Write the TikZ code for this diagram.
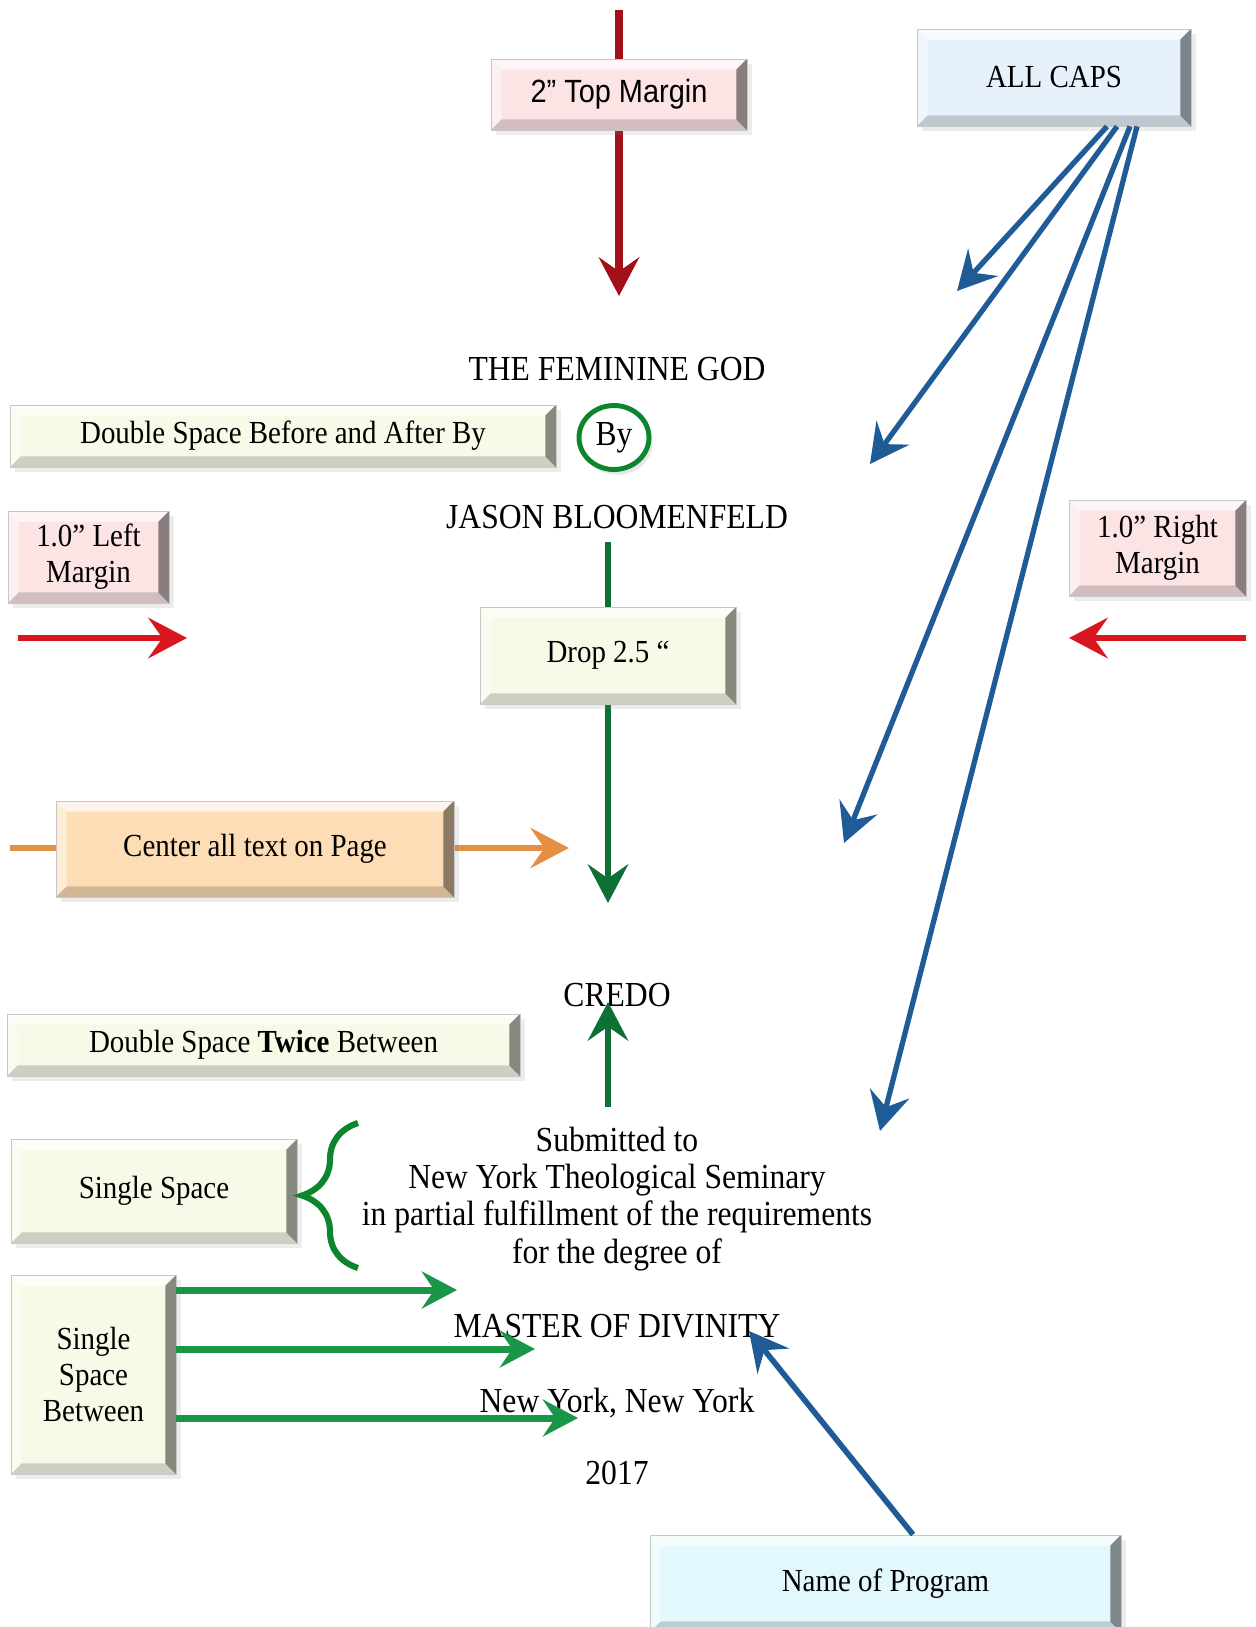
\documentclass[tikz,border=0pt]{standalone}
\usepackage{fontspec}
\setmainfont{Liberation Serif}[FakeStretch=0.9]
\newfontfamily\marginsans{Liberation Sans}[FakeStretch=0.9]
\usetikzlibrary{arrows.meta,backgrounds,decorations.pathreplacing,shadows,shapes.geometric}
\definecolor{pinkfill}{HTML}{FCE4E4}
\definecolor{capsfill}{HTML}{E6F1FC}
\definecolor{creamfill}{HTML}{F6FBE7}
\definecolor{peachfill}{HTML}{FDDDB6}
\definecolor{cyanfill}{HTML}{E3F8FC}
\definecolor{darkred}{HTML}{A3101A}
\definecolor{brightred}{HTML}{D9161F}
\definecolor{capsblue}{HTML}{1F5B96}
\definecolor{darkgreen}{HTML}{0F7035}
\definecolor{midgreen}{HTML}{1B9648}
\definecolor{peachline}{HTML}{E48F43}
\tikzset{
  bevel/.style={path picture={
    \path (path picture bounding box.north west) coordinate (bnw)
          (path picture bounding box.north east) coordinate (bne)
          (path picture bounding box.south east) coordinate (bse)
          (path picture bounding box.south west) coordinate (bsw);
    \fill[white,opacity=0.7] (bnw)--(bne)--([shift={(-#1,-#1)}]bne)--([shift={(#1,-#1)}]bnw)--cycle;
    \fill[white,opacity=0.45] (bnw)--([shift={(#1,-#1)}]bnw)--([shift={(#1,#1)}]bsw)--(bsw)--cycle;
    \fill[black,opacity=0.45] (bne)--(bse)--([shift={(-#1,#1)}]bse)--([shift={(-#1,-#1)}]bne)--cycle;
    \fill[black,opacity=0.17] (bsw)--([shift={(#1,#1)}]bsw)--([shift={(-#1,#1)}]bse)--(bse)--cycle;
  }},
  bevel/.default=6pt,
  bevelbox/.style={bevel,draw=black!22,line width=0.5pt,align=center,inner sep=2pt,
    font=\fontsize{18.3}{20.5}\selectfont,
    drop shadow={opacity=0.15,shadow xshift=3pt,shadow yshift=-3pt}},
  pagetext/.style={font=\fontsize{20}{21.2}\selectfont,inner sep=0pt},
  bigtip/.style={-{Stealth[length=22pt,width=23pt,inset=8pt]}},
  smalltip/.style={-{Stealth[length=20pt,width=21pt,inset=7pt]}},
}

\begin{document}
\begin{tikzpicture}[x=0.02cm,y=-0.02cm]
  \useasboundingbox (0,0) rectangle (1255,1627);
  % margin and spacing boxes
  \node[bevelbox,fill=pinkfill,minimum width=5.12cm,minimum height=1.42cm,
        font=\marginsans\fontsize{18.3}{20.5}\selectfont] (topbox) at (619,94.5) {2” Top Margin};
  \node[bevelbox,fill=capsfill,minimum width=5.48cm,minimum height=1.94cm] (capsbox) at (1054,77.5) {ALL CAPS};
  \node[bevelbox,fill=creamfill,minimum width=10.92cm,minimum height=1.24cm] (bybox) at (283,436)
    {Double Space Before and After By};
  \node[bevelbox,fill=pinkfill,minimum width=3.22cm,minimum height=1.84cm] (leftbox) at (88.5,557)
    {1.0” Left\\Margin};
  \node[bevelbox,fill=pinkfill,minimum width=3.54cm,minimum height=1.92cm] (rightbox) at (1157.5,548)
    {1.0” Right\\Margin};
  \node[bevelbox,fill=creamfill,minimum width=5.12cm,minimum height=1.94cm] (dropbox) at (608,655.5) {Drop 2.5 “};
  \node[bevelbox,fill=peachfill,minimum width=7.96cm,minimum height=1.92cm] (centerbox) at (255,849)
    {Center all text on Page};
  \node[bevelbox,fill=creamfill,minimum width=10.26cm,minimum height=1.24cm] (twicebox) at (263.5,1045)
    {Double Space \textbf{Twice} Between};
  \node[bevelbox,fill=creamfill,minimum width=5.72cm,minimum height=2.08cm] (singlebox) at (154,1191)
    {Single Space};
  \node[bevelbox,fill=creamfill,minimum width=3.3cm,minimum height=3.98cm] (betweenbox) at (93.5,1374.5)
    {Single\\Space\\Between};
  \node[bevelbox,fill=cyanfill,minimum width=9.42cm,minimum height=1.94cm] (progbox) at (885.5,1583.5)
    {Name of Program};
  \node[ellipse,draw=darkgreen!85!green,line width=2.8pt,fill=white,minimum width=1.4cm,minimum height=1.28cm,
        inner sep=0pt,font=\fontsize{20}{22}\selectfont,
        drop shadow={opacity=0.2,shadow xshift=2pt,shadow yshift=-3pt}] (bycircle) at (614,437.5) {By};

  % title page text
  \node[pagetext,anchor=base] (title) at (617,380) {THE FEMININE GOD};
  \node[pagetext,anchor=base] (author) at (617,528) {JASON BLOOMENFELD};
  \node[pagetext,anchor=base] (credo) at (617,1006) {CREDO};
  \node[pagetext,anchor=base,align=center] (submitted) at (617,1263)
    {Submitted to\\New York Theological Seminary\\in partial fulfillment of the requirements\\for the degree of};
  \node[pagetext,anchor=base] (degree) at (617,1337) {MASTER OF DIVINITY};
  \node[pagetext,anchor=base] (city) at (617,1412) {New York, New York};
  \node[pagetext,anchor=base] (year) at (617,1484) {2017};

  % free ends
  \coordinate (topstart) at (619,10);
  \coordinate (toptip) at (619,296);
  \coordinate (dropstart) at (608,542);
  \coordinate (droptip) at (608,903);
  \coordinate (centerstart) at (10,848);
  \coordinate (centertip) at (569,848);
  \coordinate (lefttail) at (18,638);
  \coordinate (lefttip) at (187,638);
  \coordinate (righttail) at (1246,638);
  \coordinate (righttip) at (1069,638);
  \coordinate (credotail) at (608,1107);
  \coordinate (credotip) at (608,1002);
  \coordinate (capsone) at (957,291);
  \coordinate (capstwo) at (870,464);
  \coordinate (capsthree) at (844,843);
  \coordinate (capsfour) at (880,1131);
  \coordinate (degreetip) at (749,1331);
  \coordinate (linetipone) at (457,1290);
  \coordinate (linetiptwo) at (535,1349);
  \coordinate (linetipthree) at (578,1418);
  \coordinate (bracetop) at (358,1123);
  \coordinate (bracebot) at (358,1268);

  \begin{scope}[on background layer]
    \draw[darkred,line width=4pt,bigtip] (topstart) -- (toptip);
    \draw[darkgreen,line width=3.6pt,bigtip] (dropstart) -- (droptip);
    \draw[peachline,line width=3pt,bigtip] (centerstart) -- (centertip);
  \end{scope}
  \draw[brightred,line width=3.6pt,bigtip] (lefttail) -- (lefttip);
  \draw[brightred,line width=3.6pt,bigtip] (righttail) -- (righttip);
  \draw[darkgreen,line width=3.4pt,bigtip] (credotail) -- (credotip);
  \draw[capsblue,line width=3pt,bigtip] ([xshift=1.06cm]capsbox.south) -- (capsone);
  \draw[capsblue,line width=3pt,bigtip] ([xshift=1.26cm]capsbox.south) -- (capstwo);
  \draw[capsblue,line width=3pt,bigtip] ([xshift=1.52cm]capsbox.south) -- (capsthree);
  \draw[capsblue,line width=3pt,bigtip] ([xshift=1.66cm]capsbox.south) -- (capsfour);
  \draw[capsblue,line width=3.2pt,bigtip] ([xshift=0.55cm]progbox.north) -- (degreetip);
  \draw[midgreen,line width=4pt,smalltip] (betweenbox.east |- linetipone) -- (linetipone);
  \draw[midgreen,line width=4pt,smalltip] (betweenbox.east |- linetiptwo) -- (linetiptwo);
  \draw[midgreen,line width=4pt,smalltip] (betweenbox.east |- linetipthree) -- (linetipthree);
  \draw[darkgreen!85!green,line width=3.5pt,decorate,decoration={brace,amplitude=1.12cm}] (bracebot) -- (bracetop);
\end{tikzpicture}
\end{document}
